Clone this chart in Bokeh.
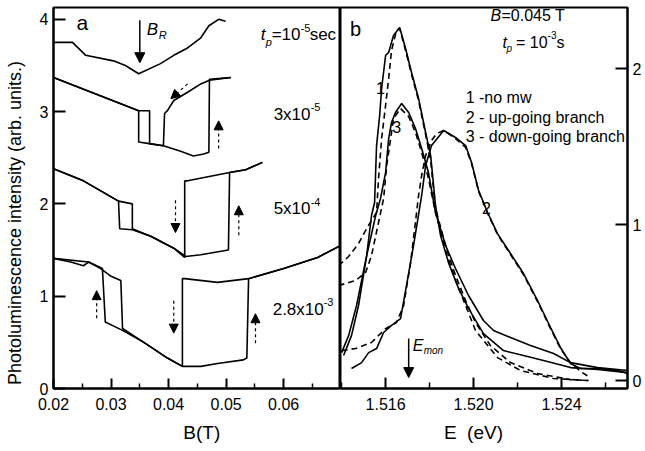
import math
from bokeh.plotting import figure
from bokeh.layouts import row
from bokeh.models import Range1d, FixedTicker, NumeralTickFormatter, Label, Arrow, NormalHead
from bokeh.embed import file_html
from bokeh.resources import INLINE

FONT = "Liberation Sans"
NB = "\u00a0"

# ---------------- panel a : PL intensity vs B (T) ----------------
a_xticks = [0.02, 0.03, 0.04, 0.05, 0.06]
a_xminor = [0.025, 0.035, 0.045, 0.055, 0.065]
a_yticks = [0, 1, 2, 3, 4]

# t_p = 1e-5 s (single sweep)
tp1_B = [0.0200, 0.0233, 0.0256, 0.0304, 0.0325, 0.0348, 0.0386, 0.0409, 0.0433, 0.0456, 0.0470, 0.0487, 0.0499]
tp1_I = [3.75, 3.75, 3.61, 3.55, 3.50, 3.41, 3.52, 3.61, 3.69, 3.80, 3.93, 4.00, 3.98]

# t_p = 3e-5 s
tp2_up_B = [0.0200, 0.0348, 0.0348, 0.0369, 0.0391, 0.0421, 0.0443, 0.0461, 0.0470, 0.0471, 0.0490, 0.0508]
tp2_up_I = [3.37, 3.01, 2.67, 2.65, 2.63, 2.57, 2.52, 2.54, 2.56, 3.35, 3.36, 3.37]
tp2_dn_B = [0.0508, 0.0471, 0.0456, 0.0433, 0.0409, 0.0398, 0.0393, 0.0391, 0.0369, 0.0367, 0.0367, 0.0348, 0.0200]
tp2_dn_I = [3.37, 3.34, 3.30, 3.21, 3.12, 3.01, 2.98, 2.63, 2.65, 2.65, 3.01, 3.01, 3.37]

# t_p = 5e-4 s
tp3_up_B = [0.0200, 0.0252, 0.0313, 0.0337, 0.0337, 0.0369, 0.0409, 0.0430, 0.0456, 0.0504, 0.0506, 0.0534, 0.0563]
tp3_up_I = [2.38, 2.25, 2.03, 2.00, 1.73, 1.65, 1.52, 1.43, 1.45, 1.50, 2.34, 2.37, 2.45]
tp3_dn_B = [0.0563, 0.0534, 0.0506, 0.0433, 0.0428, 0.0428, 0.0409, 0.0369, 0.0337, 0.0315, 0.0313, 0.0252, 0.0200]
tp3_dn_I = [2.45, 2.37, 2.34, 2.25, 2.25, 1.42, 1.52, 1.65, 1.72, 1.73, 2.03, 2.25, 2.38]

# t_p = 2.8e-3 s
tp4_up_B = [0.0200, 0.0230, 0.0252, 0.0261, 0.0282, 0.0299, 0.0317, 0.0320, 0.0357, 0.0398, 0.0424,
            0.0456, 0.0485, 0.0530, 0.0536, 0.0539, 0.0600, 0.0659, 0.0699]
tp4_up_I = [1.41, 1.37, 1.33, 1.37, 1.30, 1.22, 1.17, 0.65, 0.50, 0.33, 0.24,
            0.24, 0.27, 0.31, 0.33, 1.19, 1.30, 1.42, 1.55]
tp4_dn_B = [0.0699, 0.0659, 0.0600, 0.0539, 0.0485, 0.0428, 0.0424, 0.0424, 0.0398, 0.0357, 0.0320,
            0.0290, 0.0285, 0.0261, 0.0200]
tp4_dn_I = [1.55, 1.42, 1.30, 1.19, 1.15, 1.19, 1.19, 0.24, 0.33, 0.50, 0.63,
            0.72, 1.30, 1.37, 1.41]

# sweep-direction arrows (dashed) : start -> end
a_arr_x0 = [0.0433, 0.0487, 0.0412, 0.0522, 0.0275, 0.0409, 0.0551]
a_arr_y0 = [3.30, 2.60, 2.04, 1.66, 0.76, 0.95, 0.49]
a_arr_x1 = [0.0404, 0.0487, 0.0412, 0.0522, 0.0275, 0.0409, 0.0551]
a_arr_y1 = [3.14, 2.90, 1.69, 1.98, 1.06, 0.60, 0.81]
# resonance field arrow B_R
BR_x = 0.0350
BR_y = [3.99, 3.53]

# ---------------- panel b : PL spectra ----------------
b_xticks = [1.516, 1.520, 1.524]
b_xminor = [1.514, 1.518, 1.522, 1.526]
b_yticks = [0, 1, 2]

c1_E = [1.51409, 1.51445, 1.51477, 1.51514, 1.51536, 1.51550, 1.51559, 1.51573, 1.51582, 1.51600,
        1.51614, 1.51636, 1.51664, 1.51691, 1.51718, 1.51750, 1.51782, 1.51805, 1.51827, 1.51850,
        1.51886, 1.51932, 1.51977, 1.52045, 1.52136, 1.52227, 1.52318, 1.52441, 1.52564, 1.52700]
c1_I = [0.160, 0.288, 0.481, 0.801, 1.058, 1.141, 1.506, 1.699, 1.872, 2.083,
        2.103, 2.212, 2.263, 2.128, 1.974, 1.808, 1.590, 1.442, 1.122, 0.929,
        0.756, 0.590, 0.462, 0.301, 0.192, 0.160, 0.128, 0.083, 0.071, 0.051]

c3_E = [1.51400, 1.51432, 1.51468, 1.51514, 1.51555, 1.51577, 1.51600, 1.51614, 1.51627, 1.51645,
        1.51673, 1.51705, 1.51736, 1.51764, 1.51795, 1.51827, 1.51873, 1.51918, 1.51977, 1.52045,
        1.52091, 1.52168, 1.52259, 1.52364, 1.52441, 1.52564, 1.52700]
c3_I = [0.179, 0.288, 0.481, 0.801, 1.058, 1.167, 1.333, 1.551, 1.654, 1.718,
        1.776, 1.718, 1.615, 1.487, 1.333, 1.077, 0.865, 0.718, 0.545, 0.385,
        0.321, 0.276, 0.224, 0.173, 0.115, 0.083, 0.064]

c2_E = [1.51445, 1.51491, 1.51523, 1.51559, 1.51591, 1.51627, 1.51668, 1.51695, 1.51727, 1.51764,
        1.51782, 1.51809, 1.51864, 1.51918, 1.51964, 1.51991, 1.52023, 1.52064, 1.52109, 1.52168,
        1.52227, 1.52291, 1.52350, 1.52395, 1.52441, 1.52486, 1.52564, 1.52655, 1.52700]
c2_I = [0.077, 0.115, 0.179, 0.205, 0.308, 0.353, 0.397, 0.609, 0.865, 1.186,
        1.378, 1.506, 1.603, 1.558, 1.506, 1.397, 1.218, 1.077, 0.942, 0.814,
        0.686, 0.513, 0.340, 0.212, 0.109, 0.077, 0.077, 0.064, 0.045]

f1_E = [1.51386, 1.51432, 1.51477, 1.51514, 1.51536, 1.51559, 1.51568, 1.51582, 1.51600, 1.51614,
        1.51627, 1.51650, 1.51664, 1.51691, 1.51718, 1.51750, 1.51782, 1.51805, 1.51827, 1.51873,
        1.51918, 1.51964, 1.52009, 1.52077, 1.52168, 1.52291, 1.52441, 1.52523]
f1_I = [0.737, 0.795, 0.878, 0.974, 1.026, 1.077, 1.295, 1.551, 1.763, 1.936,
        2.115, 2.244, 2.256, 2.115, 1.962, 1.795, 1.577, 1.410, 1.103, 0.865,
        0.673, 0.513, 0.372, 0.224, 0.115, 0.045, 0.006, 0.000]

f3_E = [1.51386, 1.51418, 1.51464, 1.51509, 1.51536, 1.51568, 1.51591, 1.51605, 1.51623, 1.51636,
        1.51668, 1.51705, 1.51736, 1.51764, 1.51795, 1.51827, 1.51873, 1.51918, 1.51964, 1.52009,
        1.52109, 1.52214, 1.52364, 1.52523]
f3_I = [0.609, 0.622, 0.641, 0.692, 0.801, 1.013, 1.167, 1.378, 1.551, 1.679,
        1.744, 1.692, 1.590, 1.462, 1.295, 1.077, 0.833, 0.641, 0.481, 0.321,
        0.147, 0.064, 0.013, 0.000]

f2_E = [1.51400, 1.51464, 1.51536, 1.51600, 1.51650, 1.51682, 1.51714, 1.51750, 1.51764, 1.51782,
        1.51809, 1.51832, 1.51864, 1.51918, 1.51964, 1.51991, 1.52023, 1.52064, 1.52109, 1.52168,
        1.52227, 1.52291, 1.52350, 1.52395, 1.52441, 1.52486, 1.52523]
f2_I = [0.192, 0.205, 0.244, 0.333, 0.372, 0.481, 0.756, 1.186, 1.314, 1.442,
        1.538, 1.583, 1.603, 1.551, 1.494, 1.391, 1.212, 1.071, 0.936, 0.808,
        0.679, 0.506, 0.333, 0.205, 0.115, 0.058, 0.026]

Emon_x = 1.51705
Emon_y = [0.269, 0.019]

legend_texts = ["1 -no mw", "2 - up-going branch", "3 - down-going branch"]
legend_y = [1.814, 1.686, 1.564]


def label(p, x, y, text, size=16, italic=False, dx=0, dy=0, align="left", **kw):
    p.add_layout(Label(x=x, y=y, x_offset=dx, y_offset=dy, text=text, text_font=FONT,
                       text_font_size=f"{size}px",
                       text_font_style="italic" if italic else "normal",
                       text_align=align, text_baseline="middle", text_color="black", **kw))


def style_axis(ax):
    ax.axis_line_width = 2
    ax.axis_line_color = "black"
    ax.major_tick_line_width = 2
    ax.minor_tick_line_width = 1.5
    ax.major_tick_in = 10
    ax.major_tick_out = 0
    ax.minor_tick_in = 5
    ax.minor_tick_out = 0
    ax.major_label_text_font = FONT
    ax.major_label_text_font_size = "16px"
    ax.major_label_text_color = "black"
    ax.axis_label_text_font = FONT
    ax.axis_label_text_font_style = "normal"
    ax.axis_label_text_color = "black"


def base(p):
    p.xgrid.visible = False
    p.ygrid.visible = False
    p.outline_line_color = "black"
    p.outline_line_width = 2
    p.outline_line_alpha = 1
    p.background_fill_color = "white"
    p.border_fill_color = "white"


# ---------------- build panel a ----------------
pa = figure(width=340, height=451, x_range=Range1d(0.02, 0.0697), y_range=Range1d(0, 4.128),
            output_backend="svg", toolbar_location=None,
            min_border_left=53, min_border_right=1, min_border_top=7, min_border_bottom=63)
base(pa)
style_axis(pa.xaxis[0])
style_axis(pa.yaxis[0])
pa.xaxis[0].ticker = FixedTicker(ticks=a_xticks, minor_ticks=a_xminor)
pa.xaxis[0].formatter = NumeralTickFormatter(format="0.00")
pa.xaxis[0].major_label_standoff = 9
pa.xaxis[0].axis_label = NB * 2 + "B(T)"
pa.xaxis[0].axis_label_text_font_size = "19px"
pa.xaxis[0].axis_label_standoff = 9
pa.yaxis[0].ticker = FixedTicker(ticks=a_yticks, minor_ticks=[])
pa.yaxis[0].major_tick_in = 12
pa.yaxis[0].major_label_standoff = 5
pa.yaxis[0].axis_label = "Photoluminescence intensity (arb. units.)" + NB * 10
pa.yaxis[0].axis_label_text_font_size = "18px"
pa.yaxis[0].axis_label_standoff = 12

for xs, ys in [(tp1_B, tp1_I), (tp2_up_B, tp2_up_I), (tp2_dn_B, tp2_dn_I),
               (tp3_up_B, tp3_up_I), (tp3_dn_B, tp3_dn_I),
               (tp4_up_B, tp4_up_I), (tp4_dn_B, tp4_dn_I)]:
    pa.line(xs, ys, line_color="black", line_width=1.6)

for x0, y0, x1, y1 in zip(a_arr_x0, a_arr_y0, a_arr_x1, a_arr_y1):
    pa.add_layout(Arrow(end=NormalHead(size=9, fill_color="black", line_color="black", line_width=1),
                        x_start=x0, y_start=y0, x_end=x1, y_end=y1,
                        line_color="black", line_width=1.2, line_dash="3 3"))
pa.add_layout(Arrow(end=NormalHead(size=10, fill_color="black", line_color="black", line_width=1),
                    x_start=BR_x, y_start=BR_y[0], x_end=BR_x, y_end=BR_y[1],
                    line_color="black", line_width=1.5))

label(pa, 0.0250, 3.965, "a", size=21, align="center")
label(pa, 0.0362, 3.89, "B", size=17, italic=True)
label(pa, 0.0362, 3.89, "R", size=11, italic=True, dx=12, dy=-6)
label(pa, 0.0560, 3.835, "t", size=17, italic=True)
label(pa, 0.0560, 3.835, "p", size=11, italic=True, dx=5, dy=-7)
label(pa, 0.0560, 3.835, "=10", size=17, dx=11)
label(pa, 0.0560, 3.835, "-5", size=11, dx=40, dy=7)
label(pa, 0.0560, 3.835, "sec", size=17, dx=49)
for (tx, ty, main, sup, sdx) in [(0.05826, 2.97, "3x10", "-5", 37),
                                 (0.05826, 1.95, "5x10", "-4", 37),
                                 (0.05809, 0.856, "2.8x10", "-3", 51)]:
    label(pa, tx, ty, main, size=17)
    label(pa, tx, ty, sup, size=11, dx=sdx, dy=7)

# ---------------- build panel b ----------------
pb = figure(width=305, height=451, x_range=Range1d(1.51395, 1.5270), y_range=Range1d(-0.051, 2.391),
            output_backend="svg", toolbar_location=None, y_axis_location="right",
            min_border_left=0, min_border_right=18, min_border_top=7, min_border_bottom=63)
base(pb)
style_axis(pb.xaxis[0])
style_axis(pb.yaxis[0])
pb.xaxis[0].ticker = FixedTicker(ticks=b_xticks, minor_ticks=b_xminor)
pb.xaxis[0].formatter = NumeralTickFormatter(format="0.000")
pb.xaxis[0].major_label_standoff = 9
pb.xaxis[0].major_tick_in = 11
pb.xaxis[0].minor_tick_in = 6
pb.xaxis[0].axis_label = "E" + NB * 2 + "(eV)" + NB * 4
pb.xaxis[0].axis_label_text_font_size = "19px"
pb.xaxis[0].axis_label_standoff = 9
pb.yaxis[0].ticker = FixedTicker(ticks=b_yticks, minor_ticks=[])
pb.yaxis[0].major_tick_in = 12
pb.yaxis[0].major_label_standoff = 5

for xs, ys in [(c1_E, c1_I), (c3_E, c3_I), (c2_E, c2_I)]:
    pb.line(xs, ys, line_color="black", line_width=1.6)
for xs, ys in [(f1_E, f1_I), (f3_E, f3_I), (f2_E, f2_I)]:
    pb.line(xs, ys, line_color="black", line_width=1.6, line_dash="6 4")

pb.add_layout(Arrow(end=NormalHead(size=10, fill_color="black", line_color="black", line_width=1),
                    x_start=Emon_x, y_start=Emon_y[0], x_end=Emon_x, y_end=Emon_y[1],
                    line_color="black", line_width=1.5))
label(pb, 1.51723, 0.224, "E", size=16, italic=True)
label(pb, 1.51723, 0.224, "mon", size=10, italic=True, dx=11, dy=-5)

label(pb, 1.51464, 2.25, "b", size=20, align="center")
label(pb, 1.52077, 2.34, "B", size=16, italic=True)
label(pb, 1.52077, 2.34, "=0.045 T", size=16, dx=11)
label(pb, 1.52132, 2.167, "t", size=16, italic=True)
label(pb, 1.52132, 2.167, "p", size=10, italic=True, dx=4, dy=-6)
label(pb, 1.52132, 2.167, NB + "=" + NB + "10", size=16, dx=9)
label(pb, 1.52132, 2.167, "-3", size=10, dx=45, dy=7)
label(pb, 1.52132, 2.167, "s", size=16, dx=54)
for t, yy in zip(legend_texts, legend_y):
    label(pb, 1.51964, yy, t, size=16)
label(pb, 1.51577, 1.872, "1", size=16, align="center")
label(pb, 1.51650, 1.628, "3", size=16, align="center")
label(pb, 1.52059, 1.109, "2", size=16, align="center")

layout = row(pa, pb)
open("out.html", "w").write(file_html(layout, INLINE))
